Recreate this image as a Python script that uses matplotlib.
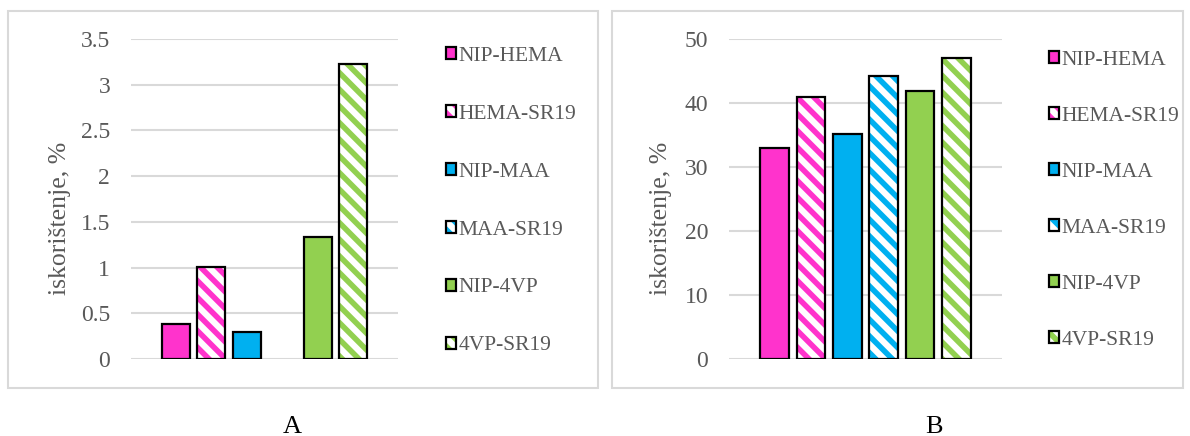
import matplotlib
matplotlib.use('Agg')
import matplotlib.pyplot as plt
from matplotlib.patches import Patch, Rectangle
import numpy as np

series = ['NIP-HEMA', 'HEMA-SR19', 'NIP-MAA', 'MAA-SR19', 'NIP-4VP', '4VP-SR19']
colors = ['#FF33CC', '#FF33CC', '#00B0F0', '#00B0F0', '#92D050', '#92D050']
hatched = [False, True, False, True, False, True]

valuesA = [0.38, 1.01, 0.295, 0.0, 1.33, 3.23]
valuesB = [33.0, 41.0, 35.2, 44.2, 41.9, 47.0]

plt.rcParams['font.family'] = ['Liberation Serif', 'DejaVu Serif']
plt.rcParams['hatch.linewidth'] = 4.0
grey = '#595959'


def drawPanel(fig, rect, values, ymax, ystep, legendPos, spacing, ylabelX):
    ax = fig.add_axes(rect)
    x = np.arange(len(values))
    for i, v in enumerate(values):
        if v == 0:
            continue
        if hatched[i]:
            ax.bar(x[i], v, 0.79, color='white', edgecolor=colors[i], hatch='\\\\', linewidth=0, zorder=2)
            ax.bar(x[i], v, 0.79, fill=False, edgecolor='black', linewidth=1.6, zorder=3)
        else:
            ax.bar(x[i], v, 0.79, color=colors[i], edgecolor='black', linewidth=1.6, zorder=3)
    ax.set_xlim(-1.26, 6.26)
    ax.set_ylim(0, ymax)
    ticks = np.arange(0, ymax + ystep / 2, ystep)
    ax.set_yticks(ticks)
    ax.set_yticklabels(['%g' % t for t in ticks])
    ax.yaxis.grid(True, color='#D9D9D9', linewidth=1.5, zorder=0)
    ax.set_axisbelow(True)
    for s in ax.spines.values():
        s.set_visible(False)
    ax.set_xticks([])
    ax.tick_params(axis='y', length=0, labelsize=17, labelcolor=grey, pad=15)
    ax.set_ylabel('iskorištenje, %', fontsize=18.5, color=grey)
    ax.yaxis.set_label_coords(ylabelX, 0.5, transform=fig.transFigure)

    handles = []
    for i in range(len(series)):
        if hatched[i]:
            handles.append((Patch(facecolor='white', edgecolor=colors[i], hatch='\\\\', linewidth=0),
                            Patch(fill=False, edgecolor='black', linewidth=1.6)))
        else:
            handles.append(Patch(facecolor=colors[i], edgecolor='black', linewidth=1.6))
    leg = fig.legend(handles, series, loc='upper left', bbox_to_anchor=legendPos,
                     frameon=False, fontsize=15.5, handlelength=0.5, handleheight=0.5,
                     handletextpad=0.1, labelspacing=spacing, borderaxespad=0)
    for t in leg.get_texts():
        t.set_color(grey)
    return ax


fig = plt.figure(figsize=(11.9, 4.36), dpi=100)

# panel frames
fig.patches.append(Rectangle((8 / 1190, 1 - 388 / 436), 590 / 1190, 377 / 436,
                             transform=fig.transFigure, fill=False, edgecolor='#D9D9D9', linewidth=1.5))
fig.patches.append(Rectangle((612 / 1190, 1 - 388 / 436), 571 / 1190, 377 / 436,
                             transform=fig.transFigure, fill=False, edgecolor='#D9D9D9', linewidth=1.5))

drawPanel(fig, [131 / 1190, 0.1766, 267 / 1190, 0.734], valuesA, 3.5, 0.5,
          (437 / 1190, 1 - 38 / 436), 1.81, 71 / 1190)
drawPanel(fig, [729 / 1190, 0.1766, 273 / 1190, 0.734], valuesB, 50, 10,
          (1040 / 1190, 1 - 42 / 436), 1.72, 672 / 1190)

fig.text(292 / 1190, 1 - 427 / 436, 'A', fontsize=19, ha='center', va='center')
fig.text(934 / 1190, 1 - 427 / 436, 'B', fontsize=19, ha='center', va='center')

fig.savefig('out.png', dpi=100)
